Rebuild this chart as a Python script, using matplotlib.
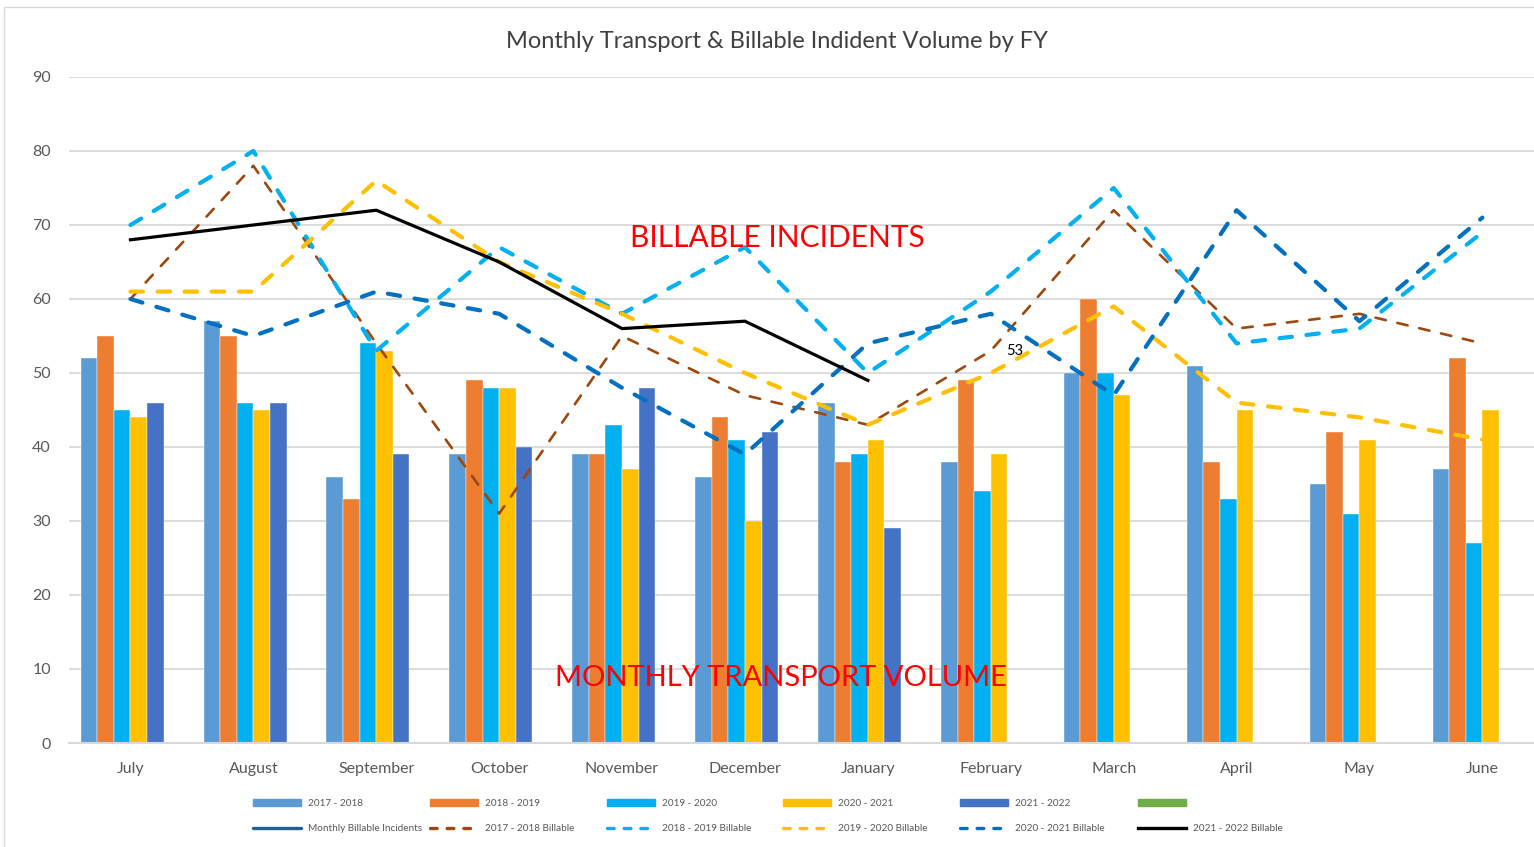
import numpy as np
import matplotlib.pyplot as plt
from matplotlib.patches import Rectangle
from matplotlib.lines import Line2D

plt.rcParams['font.family'] = ['Lato', 'DejaVu Sans']

months = ['July', 'August', 'September', 'October', 'November', 'December',
          'January', 'February', 'March', 'April', 'May', 'June']

# monthly transport volume (bars)
vol_2017 = [52, 57, 36, 39, 39, 36, 46, 38, 50, 51, 35, 37]
vol_2018 = [55, 55, 33, 49, 39, 44, 38, 49, 60, 38, 42, 52]
vol_2019 = [45, 46, 54, 48, 43, 41, 39, 34, 50, 33, 31, 27]
vol_2020 = [44, 45, 53, 48, 37, 30, 41, 39, 47, 45, 41, 45]
vol_2021 = [46, 46, 39, 40, 48, 42, 29, np.nan, np.nan, np.nan, np.nan, np.nan]

# billable incidents (lines)
bill_2017 = [60, 78, 54, 31, 55, 47, 43, 53, 72, 56, 58, 54]
bill_2018 = [70, 80, 53, 67, 58, 67, 50, 61, 75, 54, 56, 69]
bill_2019 = [61, 61, 76, 65, 58, 50, 43, 50, 59, 46, 44, 41]
bill_2020 = [60, 55, 61, 58, 48, 39, 54, 58, 47, 72, 57, 71]
bill_2021 = [68, 70, 72, 65, 56, 57, 49]

bar_labels = ['2017 - 2018', '2018 - 2019', '2019 - 2020', '2020 - 2021', '2021 - 2022']
bar_colors = ['#5B9BD5', '#ED7D31', '#00B0F0', '#FFC000', '#4472C4']
line_labels = ['2017 - 2018 Billable', '2018 - 2019 Billable', '2019 - 2020 Billable',
               '2020 - 2021 Billable', '2021 - 2022 Billable']

W, H = 1534, 847
fig = plt.figure(figsize=(W / 100, H / 100), dpi=100)
ax = fig.add_axes([69 / W, (H - 743) / H, (W - 69) / W, 666 / H])

x = np.arange(len(months))
w = 0.135
bar_series = [vol_2017, vol_2018, vol_2019, vol_2020, vol_2021]
for i, (vals, col) in enumerate(zip(bar_series, bar_colors)):
    ax.bar(x - 3 * w + (i + 0.5) * w, vals, width=w, color=col,
           edgecolor='white', linewidth=0.3, zorder=2)

grey = '#595959'
ax.plot(x, bill_2017, color='#9E480E', lw=1.9, dashes=(4, 4.5),
        dash_capstyle='round', zorder=3)
ax.plot(x, bill_2018, color='#00B0F0', lw=3, dashes=(3, 3.5),
        dash_capstyle='round', zorder=3)
ax.plot(x, bill_2019, color='#FFC000', lw=3, dashes=(3, 3.5),
        dash_capstyle='round', zorder=3)
ax.plot(x, bill_2020, color='#0070C0', lw=3, dashes=(3, 3.5),
        dash_capstyle='round', zorder=3)
ax.plot(x[:len(bill_2021)], bill_2021, color='black', lw=2.3, zorder=4)

ax.annotate('53', (7, bill_2017[7]), xytext=(17, 0), textcoords='offset points',
            ha='center', va='center', fontsize=10.5, color='black')

ax.text(5.26, 68.2, 'BILLABLE INCIDENTS', color='red', fontsize=21.5,
        ha='center', va='center')
ax.text(5.29, 8.8, 'MONTHLY TRANSPORT VOLUME', color='red', fontsize=21,
        ha='center', va='center')

ax.set_xlim(-0.5, 11.42)
ax.set_ylim(0, 90)
ax.set_yticks(range(0, 91, 10))
ax.set_xticks(x)
ax.set_xticklabels(months)
ax.tick_params(axis='both', length=0, labelsize=11.5, labelcolor=grey)
ax.tick_params(axis='y', pad=13)
ax.tick_params(axis='x', pad=13.5)
ax.grid(axis='y', color='#D9D9D9', lw=1.3, zorder=0)
ax.set_axisbelow(True)
for s in ['top', 'right', 'left']:
    ax.spines[s].set_visible(False)
ax.spines['bottom'].set_color('#D9D9D9')
ax.spines['bottom'].set_linewidth(1.5)

fig.text(777 / W, 1 - 42 / H, 'Monthly Transport & Billable Indident Volume by FY',
         ha='center', va='center', fontsize=17, color='#404040')

# chart border
fig.add_artist(Rectangle((4 / W, -0.1), 1.2, 1.1 - 7 / H, transform=fig.transFigure,
                         fill=False, edgecolor='#D9D9D9', lw=1))

# legend: six columns, two rows each
top_handles = [Rectangle((0, 0), 1, 1, color=c) for c in bar_colors]
top_handles.append(Rectangle((0, 0), 1, 1, color='#70AD47'))
top_labels = bar_labels + ['']
bot_handles = [
    Line2D([], [], color='#255E91', lw=2.4, solid_capstyle='round'),
    Line2D([], [], color='#9E480E', lw=2.4, dashes=(2, 3), dash_capstyle='round'),
    Line2D([], [], color='#00B0F0', lw=2.4, dashes=(2, 3), dash_capstyle='round'),
    Line2D([], [], color='#FFC000', lw=2.4, dashes=(2, 3), dash_capstyle='round'),
    Line2D([], [], color='#0070C0', lw=2.4, dashes=(2, 3), dash_capstyle='round'),
    Line2D([], [], color='black', lw=2.4),
]
bot_labels = ['Monthly Billable Incidents'] + line_labels
col_x = [253, 430, 607, 783, 960, 1138]
for i in range(6):
    fig.legend([top_handles[i], bot_handles[i]], [top_labels[i], bot_labels[i]],
               loc='upper left', bbox_to_anchor=(col_x[i] / W, 1 - 799 / H),
               frameon=False, fontsize=7.2, labelcolor=grey, borderpad=0,
               borderaxespad=0, handlelength=4.8, handletextpad=0.7,
               labelspacing=1.6)

fig.savefig('out.png', dpi=100)
